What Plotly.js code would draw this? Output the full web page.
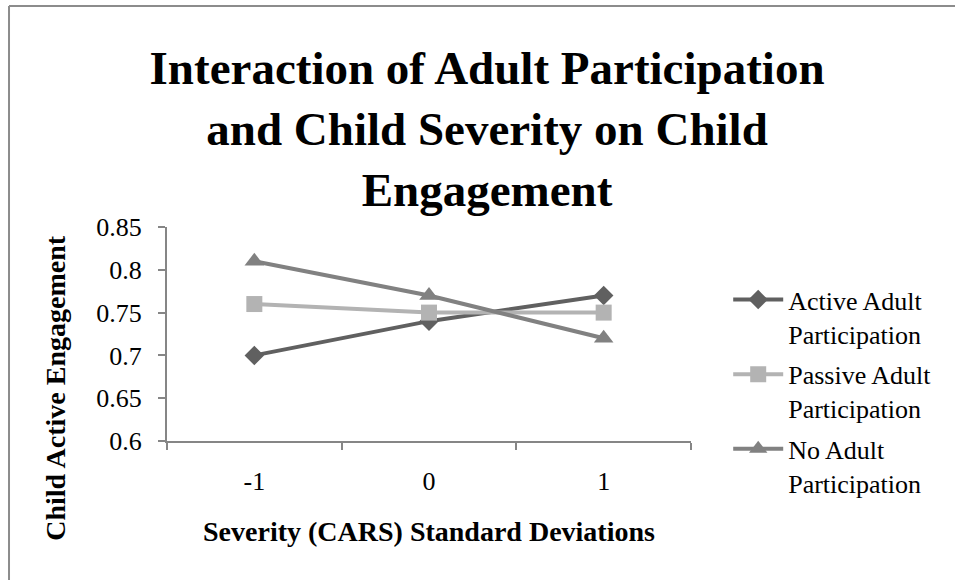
<!DOCTYPE html>
<html>
<head>
<meta charset="utf-8">
<script src="https://cdn.plot.ly/plotly-3.0.1.min.js"></script>
<style>html,body{margin:0;padding:0;background:#fff;}#chart{width:955px;height:580px;}</style>
</head>
<body>
<div id="chart"></div>
<script>
var categories = ['-1', '0', '1'];
var activeAdult = [0.70, 0.74, 0.77];
var passiveAdult = [0.76, 0.75, 0.75];
var noAdult = [0.81, 0.77, 0.72];
var seriesNames = ['Active Adult<br>Participation', 'Passive Adult<br>Participation', 'No Adult<br>Participation'];
var yTicks = [0.6, 0.65, 0.7, 0.75, 0.8, 0.85];
var yTickText = ['0.6', '0.65', '0.7', '0.75', '0.8', '0.85'];

var serif = 'Liberation Serif, Times New Roman, serif';

function trace(y, name, color, symbol, size, grp) {
  return {
    x: categories, y: y, name: name, type: 'scatter', mode: 'lines+markers',
    line: {color: color, width: 4},
    marker: {symbol: symbol, size: size, color: color},
    legendgroup: grp
  };
}

var data = [
  trace(activeAdult, seriesNames[0], '#606060', 'diamond', 15, 'a'),
  trace(passiveAdult, seriesNames[1], '#b3b3b3', 'square', 16, 'b'),
  trace(noAdult, seriesNames[2], '#818181', 'triangle-up', 17, 'c')
];

var layout = {
  width: 955, height: 580,
  margin: {l: 167, r: 264, t: 227, b: 139},
  paper_bgcolor: '#ffffff', plot_bgcolor: '#ffffff',
  font: {family: serif, color: '#000000', size: 26},
  title: {
    text: '<b>Interaction of Adult Participation<br>and Child Severity on Child<br>Engagement</b>',
    font: {family: serif, size: 47, color: '#000000'},
    x: 0.51, xanchor: 'center', xref: 'container',
    y: 0.855, yanchor: 'top', yref: 'container'
  },
  xaxis: {
    type: 'category', range: [-0.5, 2.5], tickson: 'boundaries',
    showgrid: false, zeroline: false,
    showline: true, linecolor: '#868686', linewidth: 2,
    ticks: 'outside', ticklen: 7, tickcolor: '#868686', tickwidth: 2,
    ticklabelstandoff: 16,
    tickfont: {family: serif, size: 26, color: '#000000'},
    title: {text: '<b>Severity (CARS) Standard Deviations</b>', font: {family: serif, size: 28, color: '#000000'}, standoff: 26}
  },
  yaxis: {
    range: [0.6, 0.85], tickvals: yTicks, ticktext: yTickText,
    showgrid: false, zeroline: false,
    showline: true, linecolor: '#868686', linewidth: 2,
    ticks: 'outside', ticklen: 7, tickcolor: '#868686', tickwidth: 2,
    ticklabelstandoff: 11,
    tickfont: {family: serif, size: 26, color: '#000000'}
  },
  annotations: [
    {text: '<b>Child Active Engagement</b>', xref: 'paper', yref: 'paper', x: -0.212, y: 0.248,
     xanchor: 'center', yanchor: 'middle', textangle: -90, showarrow: false,
     font: {family: serif, size: 28, color: '#000000'}}
  ],
  showlegend: true,
  legend: {
    x: 1.071, xanchor: 'left', y: 0.77, yanchor: 'top', maxheight: 400,
    font: {family: serif, size: 26, color: '#000000'},
    traceorder: 'grouped', tracegroupgap: 4, valign: 'top',
    bgcolor: 'rgba(0,0,0,0)', itemwidth: 50
  },
  shapes: [
    {type: 'line', xref: 'paper', yref: 'paper', x0: -0.3015, x1: -0.3015, y0: -1, y1: 2.033, line: {color: '#8c8c8c', width: 2}},
    {type: 'line', xref: 'paper', yref: 'paper', x0: -0.3015, x1: 1.6, y0: 2.033, y1: 2.033, line: {color: '#8c8c8c', width: 2}}
  ]
};

Plotly.newPlot('chart', data, layout, {displayModeBar: false, staticPlot: true});
</script>
</body>
</html>
